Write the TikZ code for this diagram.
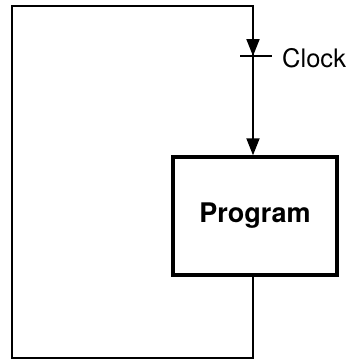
\documentclass[tikz,border=0pt]{standalone}
\usepackage{fontspec}
\setmainfont{TeX Gyre Heros}
\usetikzlibrary{arrows.meta}
\begin{document}
\begin{tikzpicture}[x=1pt,y=-1pt,
  wire/.style={line width=2pt},
  arr/.style={wire,-{Triangle[length=17pt,width=13pt]}},
  progbox/.style={draw,line width=3.5pt,minimum width=164pt,minimum height=118pt,inner sep=0pt,font=\fontsize{27}{27}\selectfont\bfseries}]
\useasboundingbox (0,0) rectangle (351,362);
\node[progbox] (prog) at (255,216) {Program};
\coordinate (bot) at (253,358);
\coordinate (bl) at (12,358);
\coordinate (tl) at (12,6);
\coordinate (tr) at (253,6);
\coordinate (a1) at (253,56);
\coordinate (tickL) at (240,56);
\coordinate (tickR) at (272,56);
\node[anchor=west,inner sep=0pt,font=\fontsize{25.5}{25.5}\selectfont] (clock) at (282,58) {Clock};
\draw[wire,line join=miter] (prog.south -| bot) -- (bot) -- (bl) -- (tl) -- (tr) -- (a1);
\draw[arr] (tr) -- (a1);
\draw[arr] (a1) -- (prog.north -| a1);
\draw[wire] (tickL) -- (tickR);
\end{tikzpicture}
\end{document}
